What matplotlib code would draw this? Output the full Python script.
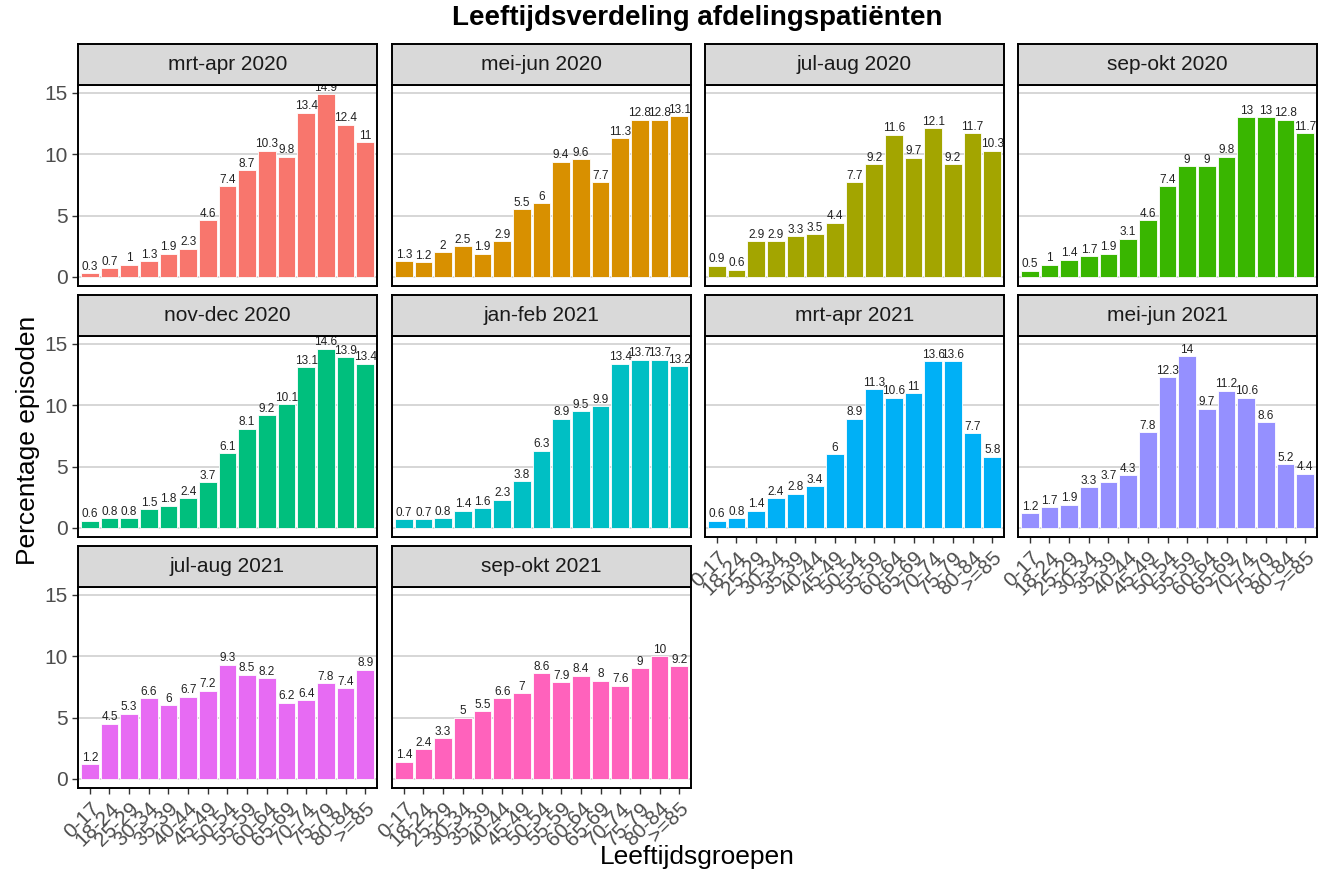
import matplotlib
matplotlib.use("Agg")
import matplotlib.pyplot as plt

plt.rcParams['font.family'] = ['Liberation Sans', 'DejaVu Sans']

age_groups = ["0-17", "18-24", "25-29", "30-34", "35-39", "40-44", "45-49", "50-54",
              "55-59", "60-64", "65-69", "70-74", "75-79", "80-84", ">=85"]

periods = ["mrt-apr 2020", "mei-jun 2020", "jul-aug 2020", "sep-okt 2020",
           "nov-dec 2020", "jan-feb 2021", "mrt-apr 2021", "mei-jun 2021",
           "jul-aug 2021", "sep-okt 2021"]

mrt_apr_2020 = [0.3, 0.7, 1, 1.3, 1.9, 2.3, 4.6, 7.4, 8.7, 10.3, 9.8, 13.4, 14.9, 12.4, 11]
mei_jun_2020 = [1.3, 1.2, 2, 2.5, 1.9, 2.9, 5.5, 6, 9.4, 9.6, 7.7, 11.3, 12.8, 12.8, 13.1]
jul_aug_2020 = [0.9, 0.6, 2.9, 2.9, 3.3, 3.5, 4.4, 7.7, 9.2, 11.6, 9.7, 12.1, 9.2, 11.7, 10.3]
sep_okt_2020 = [0.5, 1, 1.4, 1.7, 1.9, 3.1, 4.6, 7.4, 9, 9, 9.8, 13, 13, 12.8, 11.7]
nov_dec_2020 = [0.6, 0.8, 0.8, 1.5, 1.8, 2.4, 3.7, 6.1, 8.1, 9.2, 10.1, 13.1, 14.6, 13.9, 13.4]
jan_feb_2021 = [0.7, 0.7, 0.8, 1.4, 1.6, 2.3, 3.8, 6.3, 8.9, 9.5, 9.9, 13.4, 13.7, 13.7, 13.2]
mrt_apr_2021 = [0.6, 0.8, 1.4, 2.4, 2.8, 3.4, 6, 8.9, 11.3, 10.6, 11, 13.6, 13.6, 7.7, 5.8]
mei_jun_2021 = [1.2, 1.7, 1.9, 3.3, 3.7, 4.3, 7.8, 12.3, 14, 9.7, 11.2, 10.6, 8.6, 5.2, 4.4]
jul_aug_2021 = [1.2, 4.5, 5.3, 6.6, 6, 6.7, 7.2, 9.3, 8.5, 8.2, 6.2, 6.4, 7.8, 7.4, 8.9]
sep_okt_2021 = [1.4, 2.4, 3.3, 5, 5.5, 6.6, 7, 8.6, 7.9, 8.4, 8, 7.6, 9, 10, 9.2]

series = [mrt_apr_2020, mei_jun_2020, jul_aug_2020, sep_okt_2020, nov_dec_2020,
          jan_feb_2021, mrt_apr_2021, mei_jun_2021, jul_aug_2021, sep_okt_2021]

colors = ["#F8766D", "#D89000", "#A3A500", "#39B600", "#00BF7D",
          "#00BFC4", "#00B0F6", "#9590FF", "#E76BF3", "#FF62BC"]

W, H = 1328, 869
fig = plt.figure(figsize=(W / 100, H / 100), dpi=100)

col_left = [78, 392, 705, 1018]
panel_w = 299
row_top = [85, 336, 587]
panel_h = 201
strip_h = 41

ymax_all = max(max(s) for s in series)
pad = ymax_all * 0.05
x = list(range(len(age_groups)))

for i, (name, vals, col) in enumerate(zip(periods, series, colors)):
    r, c = divmod(i, 4)
    left = col_left[c] / W
    bottom = 1 - (row_top[r] + panel_h) / H
    ax = fig.add_axes([left, bottom, panel_w / W, panel_h / H])
    ax.bar(x, vals, width=0.9, color=col, edgecolor="white", linewidth=0.6, zorder=2)
    for xi, v in zip(x, vals):
        ax.annotate(f"{v:g}", (xi, v), xytext=(0, 0.3), textcoords="offset points",
                    ha="center", va="bottom", fontsize=8.5, color="#222222", zorder=3)
    ax.set_xlim(-0.6, len(x) - 0.4)
    ax.set_ylim(-pad, ymax_all + pad)
    ax.set_yticks([0, 5, 10, 15])
    ax.yaxis.grid(True, color="#D0D0D0", linewidth=1.2, zorder=0)
    ax.xaxis.grid(False)
    ax.set_axisbelow(True)
    for sp in ax.spines.values():
        sp.set_color("black")
        sp.set_linewidth(1.4)
    ax.tick_params(axis="both", colors="#333333", labelcolor="#4D4D4D",
                   labelsize=15, length=4, width=1)
    if c != 0:
        ax.tick_params(axis="y", left=False, labelleft=False)
    is_bottom = (r == 2) or (r == 1 and c >= 2)
    ax.set_xticks(x)
    if is_bottom:
        ax.set_xticklabels(age_groups, rotation=45, ha="right", va="top",
                           rotation_mode="anchor", fontsize=15)
    else:
        ax.tick_params(axis="x", bottom=False, labelbottom=False)

    sax = fig.add_axes([left, 1 - row_top[r] / H, panel_w / W, strip_h / H])
    sax.set_xlim(0, 1)
    sax.set_ylim(0, 1)
    sax.set_xticks([])
    sax.set_yticks([])
    sax.set_facecolor("#D9D9D9")
    for sp in sax.spines.values():
        sp.set_color("black")
        sp.set_linewidth(1.4)
    sax.text(0.5, 0.5, name, ha="center", va="center", fontsize=15, color="#1A1A1A")

fig.text(697 / W, 1 - 18 / H, "Leeftijdsverdeling afdelingspatiënten",
         ha="center", va="center", fontsize=20, fontweight="bold")
fig.text(697 / W, 1 - 857 / H, "Leeftijdsgroepen", ha="center", va="center", fontsize=19)
fig.text(28 / W, 1 - 440 / H, "Percentage episoden", ha="center", va="center",
         rotation=90, fontsize=19)

fig.savefig("out.png", dpi=100, facecolor="white")
